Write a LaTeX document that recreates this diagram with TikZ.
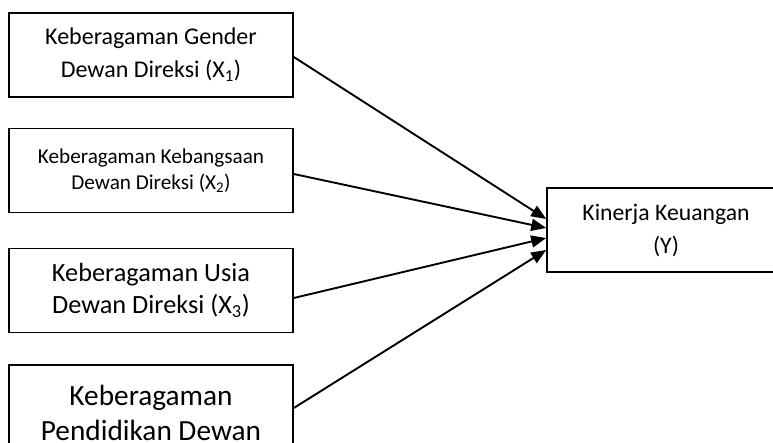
\documentclass[tikz,border=0pt]{standalone}
\usepackage{fontspec}
\setmainfont{Carlito}
\usetikzlibrary{arrows.meta, positioning, calc}
\tikzset{
  varbox/.style={rectangle, draw=black, line width=1.6pt, inner sep=0pt,
                 minimum width=284pt, minimum height=84pt, align=center},
  ybox/.style={rectangle, draw=black, line width=1.6pt, inner sep=0pt,
               minimum width=238pt, minimum height=84pt, align=center,
               font=\fontsize{23.7}{33}\selectfont},
  link/.style={-{Triangle[length=15pt,width=12pt]}, line width=1.9pt, draw=black},
}

\begin{document}
\begin{tikzpicture}[x=1pt, y=-1pt]
  \useasboundingbox (0,0) rectangle (773,443);

  % --- Independent variables ---
  \node[varbox, font=\fontsize{24}{33}\selectfont] (x1) at (151, 55)
    {Keberagaman Gender\\Dewan Direksi (X\textsubscript{1})};
  \node[varbox, font=\fontsize{21.2}{26}\selectfont] (x2) at (151, 170.5)
    {Keberagaman Kebangsaan\\Dewan Direksi (X\textsubscript{2})};
  \node[varbox, font=\fontsize{26.3}{32}\selectfont] (x3) at (151, 290.5)
    {Keberagaman Usia\\Dewan Direksi (X\textsubscript{3})};
  \node[varbox, font=\fontsize{29.3}{35}\selectfont, anchor=north,
        inner ysep=20pt] (x4) at (151, 364)
    {Keberagaman\\Pendidikan Dewan};

  % --- Dependent variable ---
  \node[ybox] (y) at (666, 230) {Kinerja Keuangan\\(Y)};

  % --- Links ---
  \draw[link] ([yshift=-2pt]x1.east)   -- ([yshift=11pt]y.west);
  \draw[link] ([yshift=-3.5pt]x2.east) -- ([yshift=2pt]y.west);
  \draw[link] ([yshift=-7.5pt]x3.east) -- ([yshift=-8pt]y.west);
  \draw[link] ([yshift=-44pt]x4.north east) -- ([yshift=-20pt]y.west);

\end{tikzpicture}
\end{document}
